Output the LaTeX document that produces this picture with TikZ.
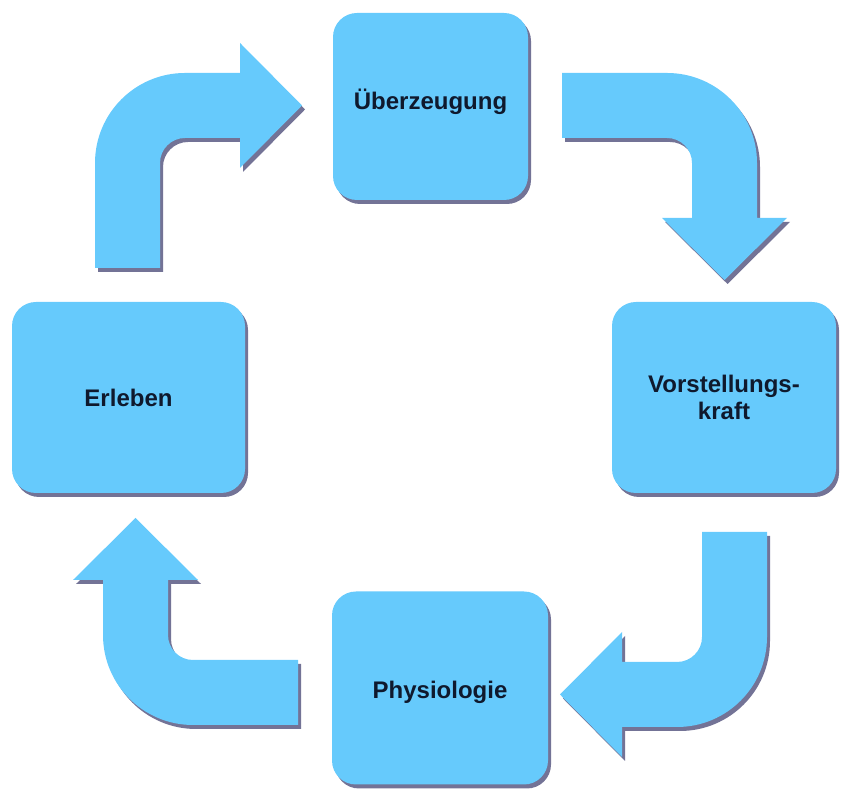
\documentclass[tikz,border=0pt]{standalone}
\usepackage{fontspec}
\setmainfont{Liberation Sans}
\usetikzlibrary{shadows}
\definecolor{boxblue}{RGB}{102,202,252}
\definecolor{textnavy}{RGB}{15,25,45}

\begin{document}
\begin{tikzpicture}[x=1pt,y=1pt,
    box/.style={rectangle,rounded corners=24pt,fill=boxblue,text=textnavy,
        font=\bfseries\fontsize{24}{27}\selectfont,align=center,inner sep=0pt,
        drop shadow={shadow xshift=3pt,shadow yshift=-4pt,fill=black!75!blue,opacity=.55}},
    pics/bentarrow/.style args={#1/#2}{code={
        \fill[boxblue,drop shadow={shadow xshift=#1pt,shadow yshift=#2pt,fill=black!75!blue,opacity=.55}]
          (0,-195) -- (0,-90) arc[start angle=180,end angle=90,radius=90]
          -- (145,0) -- (145,30) -- (207,-32.5) -- (145,-95) -- (145,-65)
          -- (90,-65) arc[start angle=90,end angle=180,radius=25] -- (65,-195) -- cycle;
    }}]

  \useasboundingbox (0,0) rectangle (846,794);

  \node[box,minimum width=195pt,minimum height=187pt,text depth=14pt] (ueb) at (430.5,687.5) {Überzeugung};
  \node[box,minimum width=224pt,minimum height=191pt] (vor) at (724,396.5) {Vorstellungs-\\kraft};
  \node[box,minimum width=216pt,minimum height=193pt,text height=26pt] (phy) at (440,106) {Physiologie};
  \node[box,minimum width=233pt,minimum height=191pt] (erl) at (128.5,396.5) {Erleben};

  % bent arrows, clockwise
  \pic at (95,721) {bentarrow=3/-4};
  \pic[rotate=-90] at (757,721) {bentarrow=3/-4};
  \pic[rotate=180] at (767,67) {bentarrow=3/-4};
  \pic[rotate=90] at (103,69) {bentarrow=3/-4};

\end{tikzpicture}
\end{document}
